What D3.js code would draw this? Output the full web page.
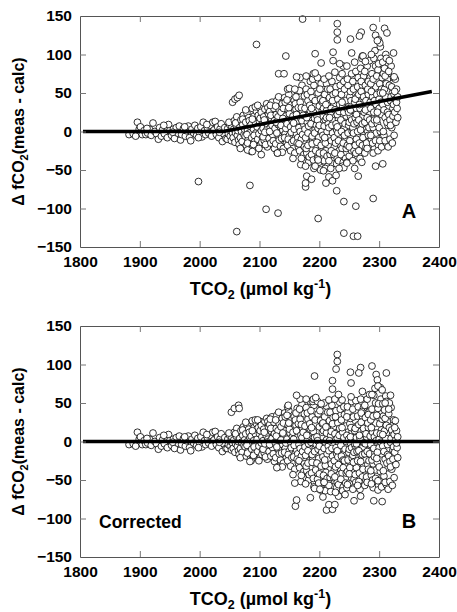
<!DOCTYPE html>
<html><head><meta charset="utf-8">
<script src="https://cdn.jsdelivr.net/npm/d3@7"></script>
<style>body{margin:0;background:#fff}</style>
</head><body><svg id="c" width="457" height="612"></svg>
<script>
const xTickValues=[1800,1900,2000,2100,2200,2300,2400];
const yTickValues=[-150,-100,-50,0,50,100,150];

// low-TCO2 band (identical in both panels)
const sharedBand=[[1882,-4],[1889,-3],[1896,12],[1899,3],[1901,6],[1904,-4],[1907,1],[1910,-4],[1913,-2],[1916,3],[1919,-5],[1922,11],[1925,0],[1928,-3],[1931,-10],[1933,5],[1936,-6],[1938,2],[1941,-3],[1944,6],[1946,-8],[1948,9],[1950,1],[1953,-5],[1956,3],[1958,-9],[1961,5],[1963,-2],[1966,7],[1968,-11],[1970,-4],[1973,4],[1976,-6],[1978,1],[1981,7],[1983,-8],[1985,-12],[1987,3],[1990,-2],[1992,8],[1995,-5],[1997,4],[2000,-3],[2002,6],[2004,-7],[2006,12],[2008,1],[2010,-4],[2013,5],[2015,-2],[2017,8],[2020,-6],[2022,12],[2024,2],[2026,13],[2028,-4],[2030,6],[2032,-8],[2034,3],[2036,10],[2038,-13],[2040,-3],[2042,5],[2044,-9],[1893,-6],[1912,4],[1940,8],[1955,-1],[1975,6],[1998,-8],[2012,9],[2033,-1]];

const cloudA=[[2046,-10],[2047,4],[2048,-3],[2050,9],[2051,-6],[2052,1],[2053,-12],[2054,6],[2055,-2],[2049,12],
[2056,-8],[2057,3],[2058,14],[2059,-14],[2060,-2],[2061,8],[2062,19],[2063,-5],[2064,1],[2065,-11],[2060,11],
[2055,38],[2059,42],[2063,44],[2066,47],
[2066,-17],[2067,5],[2068,-8],[2069,15],[2070,0],[2071,-13],[2072,9],[2073,21],[2074,-4],[2075,3],[2068,-22],[2072,16],
[2076,-6],[2077,12],[2078,-18],[2079,24],[2080,2],[2081,-11],[2082,18],[2083,-2],[2084,7],[2085,-24],[2077,28],[2080,-15],[2083,14],[2079,-4],
[2086,9],[2087,-8],[2088,30],[2089,-20],[2090,3],[2091,20],[2092,-13],[2093,12],[2094,-2],[2095,26],[2086,-26],[2088,16],[2091,-5],[2093,32],[2090,-17],
[2096,6],[2097,-10],[2098,21],[2099,-3],[2100,13],[2101,30],[2102,-17],[2103,1],[2104,9],[2105,-8],[2097,34],[2099,-22],[2101,17],[2103,25],[2104,-14],
[2106,4],[2107,19],[2108,-12],[2109,29],[2110,-3],[2111,11],[2112,36],[2113,-20],[2114,7],[2115,23],[2106,-7],[2108,15],[2110,-17],[2112,2],[2114,31],[2109,-1],
[2116,-9],[2117,26],[2118,5],[2119,-15],[2120,17],[2121,38],[2122,-4],[2123,11],[2124,30],[2125,-22],[2117,0],[2119,21],[2121,8],[2123,-12],[2125,14],[2118,34],
[2126,4],[2127,-16],[2128,22],[2129,40],[2130,-28],[2131,9],[2132,-6],[2133,28],[2134,15],[2135,-19],[2127,33],[2129,-2],[2131,19],[2133,-11],[2135,6],[2128,12],[2132,45],
[2136,25],[2137,-9],[2138,36],[2139,2],[2140,-22],[2141,14],[2142,44],[2143,-3],[2144,20],[2145,-15],[2136,8],[2138,-27],[2140,30],[2142,-8],[2144,4],[2139,17],[2143,38],
[2146,10],[2147,-18],[2148,28],[2149,48],[2150,-5],[2151,18],[2152,-25],[2153,35],[2154,2],[2155,13],[2146,41],[2148,-10],[2150,23],[2152,6],[2154,-14],[2147,55],[2153,-1],[2149,31],
[2156,20],[2157,-12],[2158,40],[2159,-28],[2160,7],[2161,29],[2162,-3],[2163,52],[2164,14],[2165,-20],[2156,-35],[2158,3],[2160,36],[2162,22],[2164,-8],[2157,11],[2161,45],[2163,-15],[2165,31],
[2166,5],[2167,-25],[2168,38],[2169,17],[2170,-10],[2171,60],[2172,26],[2173,-38],[2174,9],[2175,46],[2166,-16],[2168,0],[2170,31],[2172,-4],[2174,-30],[2167,53],[2169,-43],[2171,14],[2173,21],[2175,-20],[2168,70],[2170,-35],
[2176,30],[2177,-8],[2178,55],[2179,-28],[2180,12],[2181,40],[2182,-40],[2183,22],[2184,-15],[2185,65],[2176,3],[2178,-22],[2180,48],[2182,7],[2184,34],[2177,-45],[2179,18],[2181,-2],[2183,-33],[2185,27],[2178,72],[2181,-18],
[2186,10],[2187,-30],[2188,44],[2189,-12],[2190,25],[2191,60],[2192,-42],[2193,3],[2194,35],[2195,-20],[2186,52],[2188,-6],[2190,-37],[2192,17],[2194,-25],[2187,30],[2189,68],[2191,-48],[2193,40],[2195,8],[2188,-16],[2190,75],[2192,-2],
[2196,20],[2197,-35],[2198,50],[2199,-8],[2200,33],[2201,-45],[2202,12],[2203,62],[2204,-22],[2205,27],[2196,-14],[2198,4],[2200,-28],[2202,42],[2204,0],[2197,15],[2199,-40],[2201,55],[2203,-18],[2205,38],[2197,70],[2200,8],[2202,-50],
[2206,-5],[2207,30],[2208,-38],[2209,48],[2210,15],[2211,-25],[2212,62],[2213,0],[2214,-45],[2215,22],[2206,40],[2208,7],[2210,-15],[2212,27],[2214,55],[2207,-28],[2209,-8],[2211,35],[2213,-32],[2215,10],[2208,68],[2210,-48],[2212,18],
[2216,5],[2217,44],[2218,-30],[2219,25],[2220,-12],[2221,65],[2222,-42],[2223,14],[2224,36],[2225,-20],[2216,-38],[2218,55],[2220,30],[2222,-2],[2224,-30],[2217,18],[2219,-48],[2221,8],[2223,48],[2225,-8],[2216,72],[2220,-25],[2222,40],
[2226,28],[2227,-15],[2228,58],[2229,2],[2230,-35],[2231,42],[2232,16],[2233,-25],[2234,70],[2235,-5],[2226,-28],[2228,10],[2230,22],[2232,-12],[2234,35],[2227,50],[2229,-42],[2231,-2],[2233,26],[2235,60],[2226,77],[2230,6],[2232,-38],
[2236,15],[2237,48],[2238,-22],[2239,32],[2240,-40],[2241,65],[2242,5],[2243,-10],[2244,40],[2245,20],[2236,-30],[2238,75],[2240,-15],[2242,55],[2244,-35],[2237,0],[2239,-45],[2241,25],[2243,10],[2245,-22],[2238,38],[2240,85],[2242,-5],
[2246,30],[2247,-18],[2248,60],[2249,8],[2250,-32],[2251,45],[2252,20],[2253,-8],[2254,75],[2255,35],[2246,-40],[2248,-2],[2250,12],[2252,52],[2254,-25],[2247,68],[2249,25],[2251,-12],[2253,40],[2255,0],[2246,85],[2250,-20],[2252,28],[2254,15],
[2256,5],[2257,55],[2258,-25],[2259,38],[2260,18],[2261,78],[2262,-10],[2263,45],[2264,-35],[2265,25],[2256,65],[2258,10],[2260,-18],[2262,30],[2264,58],[2257,-2],[2259,90],[2261,-28],[2263,12],[2265,70],[2256,-38],[2260,42],[2262,22],[2264,0],
[2266,48],[2267,-15],[2268,30],[2269,82],[2270,8],[2271,-28],[2272,60],[2273,20],[2274,-5],[2275,40],[2266,15],[2268,-35],[2270,52],[2272,-18],[2274,72],[2267,35],[2269,2],[2271,95],[2273,-8],[2275,25],[2266,-25],[2270,65],[2272,10],[2274,45],
[2276,12],[2277,60],[2278,-20],[2279,35],[2280,85],[2281,0],[2282,48],[2283,-12],[2284,25],[2285,70],[2276,-28],[2278,40],[2280,18],[2282,-5],[2284,92],[2277,28],[2279,-15],[2281,55],[2283,5],[2285,38],[2276,78],[2280,-22],[2282,65],[2284,15],
[2286,30],[2287,-10],[2288,75],[2289,45],[2290,5],[2291,95],[2292,-22],[2293,20],[2294,58],[2295,-2],[2286,62],[2288,10],[2290,-28],[2292,40],[2294,85],[2287,52],[2289,-15],[2291,25],[2293,105],[2295,35],[2286,-5],[2290,68],[2292,15],[2294,-12],
[2296,48],[2297,10],[2298,80],[2299,-18],[2300,30],[2301,62],[2302,0],[2303,95],[2304,22],[2305,-8],[2296,72],[2298,-25],[2300,42],[2302,110],[2304,55],[2297,25],[2299,88],[2301,-12],[2303,38],[2305,70],[2296,15],[2300,5],[2302,50],[2304,-20],
[2306,35],[2307,75],[2308,-5],[2309,55],[2310,18],[2311,100],[2312,-15],[2313,42],[2314,68],[2315,8],[2306,90],[2308,28],[2310,-12],[2312,62],[2314,25],[2307,0],[2309,82],[2311,45],[2313,12],[2315,-20],[2306,50],[2310,72],[2312,95],[2314,38],
[2316,22],[2317,60],[2318,-10],[2319,40],[2320,85],[2321,5],[2322,50],[2323,30],[2324,70],[2325,-5],[2316,78],[2318,15],[2320,45],[2322,-15],[2324,35],[2317,92],[2319,8],[2321,58],[2323,20],[2325,48],
[2326,25],[2327,42],[2328,12],[2329,55],[2330,30],[2331,18],[2327,68],[2329,38],[2331,45],[2326,52]];

const outliersA=[[2172,146],[2095,113],[2230,140],[2230,129],[2230,119],[2252,120],[2270,129],[2267,124],[2290,135],[2309,134],[2313,128],[2294,125],[2299,119],[2301,115],[2297,118],[2144,98],[2193,101],[2223,103],[2223,92],[2203,89],[2234,88],[2254,102],[2132,75],[2141,75],[2324,102],[2272,98],[2162,71],[2193,76],[2150,56],[2159,55],[2273,98],[2277,91],[2287,100],[2325,71],
[1998,-65],[2084,-70],[2062,-130],[2111,-101],[2131,-106],[2198,-113],[2241,-132],[2257,-136],[2264,-136],[2241,-91],[2261,-97],[2290,-87],[2229,-77],[2177,-72],[2177,-67],[2179,-58],[2187,-62],[2211,-67],[2216,-59],[2222,-64],[2228,-57],[2259,-48],[2265,-58],[2271,-40],[2294,-45],[2306,-42],[2241,-47],[2246,-41],[2233,-48],[2103,-30],[2130,-28],[2080,-24],[2088,-26],[2207,-51],[2193,-45],[2198,-37]];

const cloudB=[[2046,-9],[2047,3],[2048,-4],[2050,8],[2051,-6],[2052,0],[2053,-11],[2054,5],[2055,-2],[2049,11],
[2056,-9],[2057,2],[2058,12],[2059,-14],[2060,-3],[2061,7],[2062,17],[2063,-6],[2064,0],[2065,-12],[2060,10],
[2053,38],[2058,43],[2065,47],[2066,43],
[2066,-17],[2067,4],[2068,-9],[2069,14],[2070,-1],[2071,-14],[2072,8],[2073,19],[2074,-5],[2075,2],[2068,-21],[2072,15],
[2076,-7],[2077,10],[2078,-19],[2079,22],[2080,0],[2081,-12],[2082,16],[2083,-3],[2084,5],[2085,-22],[2077,25],[2080,-15],[2083,12],[2079,-5],
[2086,7],[2087,-10],[2088,27],[2089,-21],[2090,1],[2091,18],[2092,-15],[2093,10],[2094,-4],[2095,23],[2086,-25],[2088,14],[2091,-7],[2093,28],[2090,-18],
[2096,3],[2097,-13],[2098,18],[2099,-6],[2100,10],[2101,26],[2102,-20],[2103,-2],[2104,6],[2105,-11],[2097,28],[2099,-25],[2101,14],[2103,21],[2104,-17],
[2106,1],[2107,16],[2108,-15],[2109,26],[2110,-6],[2111,8],[2112,30],[2113,-23],[2114,3],[2115,19],[2106,-10],[2108,12],[2110,-20],[2112,-1],[2114,26],[2109,-3],
[2116,-13],[2117,22],[2118,1],[2119,-19],[2120,13],[2121,32],[2122,-8],[2123,7],[2124,25],[2125,-26],[2117,-4],[2119,17],[2121,4],[2123,-16],[2125,10],[2118,29],
[2126,-1],[2127,-21],[2128,17],[2129,34],[2130,-33],[2131,4],[2132,-11],[2133,23],[2134,10],[2135,-24],[2127,28],[2129,-7],[2131,14],[2133,-16],[2135,1],[2128,7],[2132,38],
[2136,19],[2137,-15],[2138,30],[2139,-4],[2140,-28],[2141,8],[2142,37],[2143,-9],[2144,14],[2145,-21],[2136,2],[2138,-33],[2140,24],[2142,-14],[2144,-2],[2139,11],[2143,32],
[2146,3],[2147,-25],[2148,21],[2149,40],[2150,-12],[2151,11],[2152,-32],[2153,28],[2154,-5],[2155,6],[2146,34],[2148,-17],[2150,16],[2152,-1],[2154,-21],[2147,45],[2153,-8],[2149,24],
[2156,12],[2157,-20],[2158,32],[2159,-36],[2160,-1],[2161,21],[2162,-11],[2163,43],[2164,6],[2165,-28],[2156,-43],[2158,-5],[2160,28],[2162,14],[2164,-16],[2157,3],[2161,37],[2163,-23],[2165,23],
[2166,-4],[2167,-34],[2168,29],[2169,8],[2170,-19],[2171,48],[2172,17],[2173,-47],[2174,0],[2175,36],[2166,-25],[2168,-9],[2170,22],[2172,-13],[2174,-39],[2167,42],[2169,-52],[2171,5],[2173,12],[2175,-29],[2168,55],[2170,-44],
[2176,20],[2177,-18],[2178,44],[2179,-38],[2180,2],[2181,29],[2182,-50],[2183,11],[2184,-25],[2185,52],[2176,-7],[2178,-32],[2180,37],[2182,-3],[2184,23],[2177,-55],[2179,8],[2181,-12],[2183,-43],[2185,16],[2178,55],[2181,-28],
[2186,-1],[2187,-41],[2188,32],[2189,-23],[2190,13],[2191,47],[2192,-53],[2193,-9],[2194,23],[2195,-32],[2186,40],[2188,-17],[2190,-48],[2192,5],[2194,-37],[2187,18],[2189,52],[2191,-59],[2193,28],[2195,-4],[2188,-27],[2190,55],[2192,-13],
[2196,6],[2197,-49],[2198,36],[2199,-22],[2200,19],[2201,-59],[2202,-2],[2203,47],[2204,-36],[2205,12],[2196,-28],[2198,-10],[2200,-42],[2202,27],[2204,-14],[2197,1],[2199,-54],[2201,40],[2203,-32],[2205,23],[2197,52],[2200,-6],[2202,-63],
[2206,-20],[2207,14],[2208,-53],[2209,32],[2210,-1],[2211,-40],[2212,46],[2213,-16],[2214,-60],[2215,6],[2206,24],[2208,-9],[2210,-31],[2212,11],[2214,38],[2207,-44],[2209,-24],[2211,19],[2213,-48],[2215,-6],[2208,50],[2210,-64],[2212,2],
[2216,-12],[2217,27],[2218,-47],[2219,8],[2220,-29],[2221,47],[2222,-59],[2223,-3],[2224,19],[2225,-37],[2216,-55],[2218,38],[2220,13],[2222,-19],[2224,-47],[2217,1],[2219,-65],[2221,-9],[2223,31],[2225,-25],[2216,54],[2220,-42],[2222,23],
[2226,10],[2227,-33],[2228,40],[2229,-16],[2230,-53],[2231,24],[2232,-2],[2233,-43],[2234,51],[2235,-23],[2226,-46],[2228,-8],[2230,4],[2232,-30],[2234,17],[2227,32],[2229,-60],[2231,-20],[2233,8],[2235,42],[2226,55],[2230,-12],[2232,-56],
[2236,-5],[2237,28],[2238,-41],[2239,12],[2240,-59],[2241,45],[2242,-15],[2243,-29],[2244,20],[2245,0],[2236,-49],[2238,54],[2240,-34],[2242,35],[2244,-54],[2237,-19],[2239,-64],[2241,5],[2243,-10],[2245,-41],[2238,18],[2240,-24],[2242,-25],
[2246,8],[2247,-39],[2248,38],[2249,-14],[2250,-54],[2251,23],[2252,-2],[2253,-30],[2254,52],[2255,13],[2246,-60],[2248,-24],[2250,-10],[2252,30],[2254,-47],[2247,45],[2249,3],[2251,-34],[2253,18],[2255,-22],[2246,32],[2250,-42],[2252,6],[2254,-8],
[2256,-18],[2257,32],[2258,-49],[2259,14],[2260,-6],[2261,53],[2262,-34],[2263,20],[2264,-60],[2265,0],[2256,42],[2258,-14],[2260,-43],[2262,5],[2264,33],[2257,-27],[2259,-3],[2261,-53],[2263,-13],[2265,45],[2256,-62],[2260,17],[2262,-3],[2264,-25],
[2266,22],[2267,-41],[2268,4],[2269,55],[2270,-18],[2271,-55],[2272,33],[2273,-7],[2274,-32],[2275,13],[2266,-12],[2268,-62],[2270,25],[2272,-46],[2274,44],[2267,8],[2269,-26],[2271,39],[2273,-36],[2275,-2],[2266,-52],[2270,37],[2272,-17],[2274,17],
[2276,-16],[2277,31],[2278,-50],[2279,6],[2280,55],[2281,-30],[2282,18],[2283,-42],[2284,-5],[2285,40],[2276,-57],[2278,10],[2280,-13],[2282,-36],[2284,61],[2277,-3],[2279,-46],[2281,24],[2283,-25],[2285,7],[2276,47],[2280,-53],[2282,35],[2284,-16],
[2286,-4],[2287,-44],[2288,42],[2289,12],[2290,-29],[2291,60],[2292,-57],[2293,-15],[2294,24],[2295,-37],[2286,28],[2288,-24],[2290,-60],[2292,6],[2294,50],[2287,18],[2289,-50],[2291,-9],[2293,69],[2295,1],[2286,-38],[2290,33],[2292,-20],[2294,-48],
[2296,11],[2297,-27],[2298,43],[2299,-57],[2300,-8],[2301,23],[2302,-39],[2303,55],[2304,-16],[2305,-46],[2296,34],[2298,-63],[2300,3],[2302,70],[2304,15],[2297,-14],[2299,49],[2301,-51],[2303,-1],[2305,29],[2296,-22],[2300,-33],[2302,10],[2304,-59],
[2306,-6],[2307,33],[2308,-45],[2309,14],[2310,-23],[2311,59],[2312,-56],[2313,1],[2314,26],[2315,-34],[2306,49],[2308,-13],[2310,-53],[2312,21],[2314,-17],[2307,-38],[2309,41],[2311,4],[2313,-28],[2315,-62],[2306,9],[2310,30],[2312,52],[2314,-4],
[2316,-19],[2317,18],[2318,-52],[2319,-1],[2320,44],[2321,-36],[2322,8],[2323,-11],[2324,28],[2325,-47],[2316,36],[2318,-26],[2320,4],[2322,-57],[2324,-7],[2317,50],[2319,-33],[2321,15],[2323,-23],[2325,9],
[2326,-14],[2327,1],[2328,-30],[2329,14],[2330,-8],[2331,-21],[2327,27],[2329,-2],[2331,6],[2326,18]];

const outliersB=[[2230,113],[2230,104],[2228,94],[2288,98],[2269,96],[2252,90],[2266,89],[2312,89],[2295,87],[2297,80],[2298,72],[2192,85],[2222,79],[2222,68],[2253,76],[2272,65],[2232,61],[2162,60],[2194,57],[2253,58],[2288,61],[2305,67],[2319,60],[2310,50],[2316,42],[2203,49],[2148,47],
[2212,-89],[2222,-88],[2216,-82],[2226,-82],[2160,-84],[2162,-76],[2185,-73],[2206,-72],[2291,-77],[2305,-78],[2258,-77],[2269,-71],[2243,-69],[2232,-71],[2227,-66],[2192,-61],[2201,-62],[2216,-57],[2159,-54],[2287,-55],[2247,-56],[2264,-57],[2298,-51],[2208,-53],[2084,-26],[2129,-34]];

const fitLineA=[[1805,0],[2039,0],[2388,52]];
const fitLineB=[[1805,0],[2400,0]];
const panelLetters=["A","B"];
const panelNotes=["","Corrected"];

const FONT='"Liberation Sans", Arial, Helvetica, sans-serif';
const svg=d3.select("#c");
const L=80,R=439,H=231;

function drawPanel(top, points, line, letter, note){
  const x=d3.scaleLinear().domain([1800,2400]).range([L,R]);
  const y=d3.scaleLinear().domain([-150,150]).range([top+H,top]);
  const g=svg.append("g");

  g.append("g").selectAll("circle").data(points).join("circle")
    .attr("cx",d=>x(d[0])).attr("cy",d=>y(d[1])).attr("r",3.4)
    .attr("fill","#fff").attr("stroke","#000").attr("stroke-width",0.8);

  g.append("path").datum(line)
    .attr("d",d3.line().x(d=>x(d[0])).y(d=>y(d[1])))
    .attr("fill","none").attr("stroke","#000").attr("stroke-width",3.5)
    .attr("stroke-linejoin","round");

  const inner=xTickValues.slice(1,-1), innerY=yTickValues.slice(1,-1);
  const axB=g.append("g").attr("transform",`translate(0,${top+H})`)
    .call(d3.axisBottom(x).tickValues(xTickValues).tickSizeInner(-6).tickSizeOuter(0).tickPadding(9).tickFormat(d3.format("d")));
  const axT=g.append("g").attr("transform",`translate(0,${top})`)
    .call(d3.axisTop(x).tickValues(inner).tickSizeInner(-6).tickSizeOuter(0).tickFormat(""));
  const axL=g.append("g").attr("transform",`translate(${L},0)`)
    .call(d3.axisLeft(y).tickValues(yTickValues).tickSizeInner(-6).tickSizeOuter(0).tickPadding(8).tickFormat(d3.format("d")));
  const axR=g.append("g").attr("transform",`translate(${R},0)`)
    .call(d3.axisRight(y).tickValues(innerY).tickSizeInner(-6).tickSizeOuter(0).tickFormat(""));
  [axB,axT,axL,axR].forEach(a=>{
    a.select(".domain").attr("stroke","#555").attr("stroke-width",1);
    a.selectAll(".tick line").attr("stroke","#777").attr("stroke-width",1);
    a.selectAll("text").attr("font-family",FONT).attr("font-weight","bold").attr("font-size",15.5).attr("fill","#000");
  });
  axB.selectAll(".tick line").filter(d=>d===1800||d===2400).remove();
  axL.selectAll(".tick line").filter(d=>d===150||d===-150).remove();

  const xt=g.append("text").attr("x",(L+R)/2+1).attr("y",top+H+48)
    .attr("text-anchor","middle").attr("font-family",FONT).attr("font-weight","bold").attr("font-size",18);
  xt.append("tspan").text("TCO");
  xt.append("tspan").attr("font-size",12.5).attr("dy",4).text("2");
  xt.append("tspan").attr("dy",-4).text(" (\u00b5mol kg");
  xt.append("tspan").attr("font-size",12.5).attr("dy",-7).text("-1");
  xt.append("tspan").attr("dy",7).text(")");

  const yt=g.append("text").attr("transform",`translate(24,${top+H/2}) rotate(-90)`)
    .attr("text-anchor","middle").attr("font-family",FONT).attr("font-weight","bold").attr("font-size",16);
  yt.append("tspan").text("\u0394 fCO");
  yt.append("tspan").attr("font-size",11).attr("dy",4).text("2");
  yt.append("tspan").attr("dy",-4).text("(meas - calc)");

  g.append("text").attr("x",409).attr("y",top+202).attr("text-anchor","middle")
    .attr("font-family",FONT).attr("font-weight","bold").attr("font-size",20).text(letter);
  if(note){
    g.append("text").attr("x",99).attr("y",top+202)
      .attr("font-family",FONT).attr("font-weight","bold").attr("font-size",17.5).text(note);
  }
}

drawPanel(16, sharedBand.concat(cloudA, outliersA), fitLineA, panelLetters[0], panelNotes[0]);
drawPanel(326, sharedBand.concat(cloudB, outliersB), fitLineB, panelLetters[1], panelNotes[1]);
</script></body></html>
